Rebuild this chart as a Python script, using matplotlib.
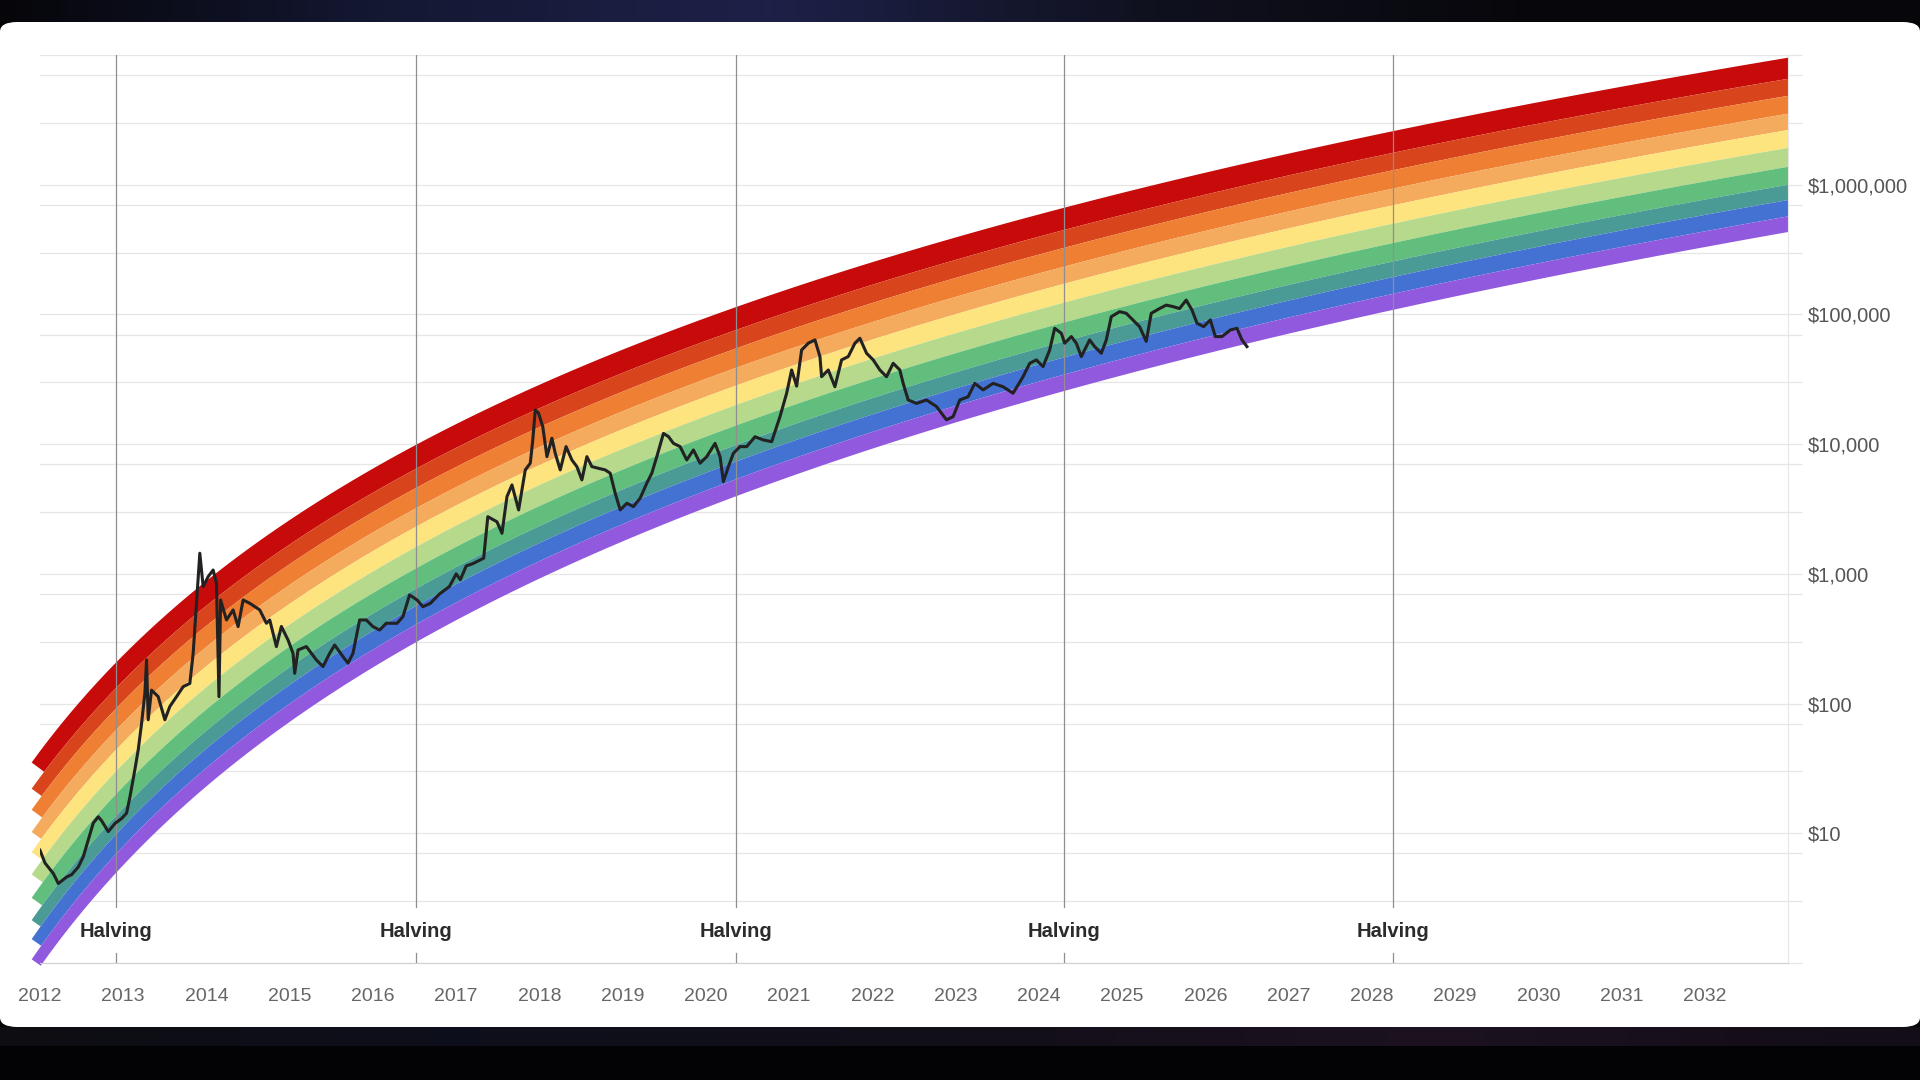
import numpy as np
import matplotlib.pyplot as plt
from matplotlib.patches import Rectangle, FancyBboxPatch
from matplotlib.ticker import FixedLocator, FuncFormatter, NullFormatter
from matplotlib.colors import LinearSegmentedColormap
import matplotlib.transforms as mtransforms

plt.rcParams['font.family'] = ['Liberation Sans', 'DejaVu Sans']

# rainbow model: log10(price) = a * ln(days since genesis) + b, for the top and bottom edge
GENESIS_YEAR = 2009.0
TOP_A, TOP_B = 2.571, -16.362
BOT_A, BOT_B = 2.724, -19.095
BAND_COLORS = ['#c70a0a', '#d8441c', '#ef7f33', '#f4ab5d', '#fde47e',
               '#b6d98b', '#62be7c', '#4a9a95', '#4472d3', '#9159dd']
# relative band thickness, top to bottom (read at the right end)
BAND_WIDTHS = [21.6, 17.4, 18.3, 16.7, 18.3, 19.3, 18.4, 15.6, 16.7, 16.0]
RAINBOW_START, RAINBOW_END = 2011.9, 2033.0

HALVINGS = [2012.91, 2016.52, 2020.36, 2024.30, 2028.25]
YEAR_TICKS = list(range(2012, 2033))

# btc price (decimal year, usd)
PRICE_YEARS = [
    2012.00, 2012.06, 2012.16, 2012.22, 2012.32, 2012.38, 2012.46, 2012.52, 2012.58, 2012.64,
    2012.70, 2012.74, 2012.82, 2012.90, 2012.98, 2013.04, 2013.08, 2013.14, 2013.18, 2013.22,
    2013.26, 2013.28, 2013.30, 2013.34, 2013.42, 2013.50, 2013.56, 2013.64, 2013.72, 2013.80,
    2013.84, 2013.88, 2013.92, 2013.96, 2014.02, 2014.08, 2014.12, 2014.15, 2014.17, 2014.24,
    2014.32, 2014.38, 2014.44, 2014.52, 2014.64, 2014.72, 2014.76, 2014.84, 2014.90, 2014.98,
    2015.04, 2015.06, 2015.10, 2015.20, 2015.32, 2015.40, 2015.48, 2015.54, 2015.64, 2015.70,
    2015.76, 2015.84, 2015.92, 2016.00, 2016.08, 2016.16, 2016.29, 2016.36, 2016.44, 2016.53,
    2016.60, 2016.69, 2016.80, 2016.92, 2017.00, 2017.05, 2017.12, 2017.20, 2017.33, 2017.38,
    2017.49, 2017.55, 2017.61, 2017.67, 2017.75, 2017.83, 2017.89, 2017.92, 2017.95, 2017.99,
    2018.04, 2018.09, 2018.15, 2018.19, 2018.25, 2018.32, 2018.39, 2018.45, 2018.51, 2018.57,
    2018.63, 2018.71, 2018.79, 2018.85, 2018.91, 2018.97, 2019.05, 2019.13, 2019.21, 2019.29,
    2019.35, 2019.41, 2019.49, 2019.55, 2019.61, 2019.69, 2019.77, 2019.85, 2019.93, 2020.01,
    2020.11, 2020.17, 2020.21, 2020.27, 2020.33, 2020.41, 2020.49, 2020.59, 2020.69, 2020.79,
    2020.89, 2020.97, 2021.03, 2021.09, 2021.15, 2021.23, 2021.31, 2021.37, 2021.39, 2021.47,
    2021.55, 2021.63, 2021.71, 2021.79, 2021.85, 2021.93, 2022.01, 2022.09, 2022.17, 2022.25,
    2022.33, 2022.37, 2022.43, 2022.53, 2022.65, 2022.77, 2022.89, 2022.97, 2023.05, 2023.15,
    2023.23, 2023.33, 2023.45, 2023.57, 2023.69, 2023.81, 2023.89, 2023.97, 2024.05, 2024.13,
    2024.19, 2024.27, 2024.31, 2024.39, 2024.45, 2024.51, 2024.61, 2024.67, 2024.75, 2024.81,
    2024.87, 2024.97, 2025.05, 2025.13, 2025.21, 2025.29, 2025.35, 2025.45, 2025.53, 2025.61,
    2025.69, 2025.77, 2025.84, 2025.90, 2025.98, 2026.06, 2026.12, 2026.20, 2026.30, 2026.38,
    2026.44, 2026.50]
PRICE_USD = [
    7.4, 5.9, 4.9, 4.1, 4.6, 4.8, 5.5, 6.6, 8.9, 12,
    13.4, 12.5, 10.3, 11.9, 13, 14.3, 19, 31, 44, 70,
    120, 217, 75, 127, 113, 75, 95, 113, 135, 143,
    244, 597, 1443, 797, 952, 1071, 847, 113, 629, 441,
    527, 392, 629, 593, 527, 416, 441, 275, 393, 309,
    244, 171, 259, 275, 217, 193, 244, 283, 230, 205,
    244, 441, 441, 392, 369, 416, 416, 468, 688, 629,
    558, 593, 700, 800, 1000, 900, 1150, 1200, 1320, 2760,
    2520, 2055, 3940, 4850, 3110, 6330, 7130, 10770, 18350, 17300,
    13650, 8010, 11100, 8500, 6330, 9570, 7550, 6710, 5300, 8010,
    6710, 6510, 6330, 5970, 4190, 3110, 3500, 3300, 3830, 5000,
    5970, 8000, 12100, 11430, 10140, 9570, 7550, 9020, 7130, 8010,
    10140, 8010, 5140, 6710, 8500, 9570, 9570, 11400, 10770, 10450,
    16300, 24700, 37300, 28000, 53200, 60000, 63600, 47300, 33100, 37300,
    27700, 44600, 47300, 60000, 65500, 50200, 44600, 37300, 33100, 42000,
    37300, 29400, 21900, 20600, 21900, 19500, 15400, 16300, 21900, 23200,
    29400, 26200, 29400, 27700, 24700, 33100, 42000, 44600, 39600, 53200,
    78200, 71600, 60000, 67500, 60000, 47300, 63600, 56500, 50200, 63600,
    96100, 105000, 102000, 90700, 80500, 62000, 102000, 111000, 118000, 115000,
    111000, 129000, 108000, 85500, 80500, 90700, 67500, 67500, 75800, 78200,
    63600, 56500]


def band_edge(years, frac):
    # log10 price of the boundary that sits frac of the way from the top edge to the bottom edge
    ln_days = np.log((np.asarray(years) - GENESIS_YEAR) * 365.25)
    top = TOP_A * ln_days + TOP_B
    bot = BOT_A * ln_days + BOT_B
    return top + (bot - top) * frac


fig = plt.figure(figsize=(19.2, 10.8), dpi=100, facecolor='#030305')

# dark strips above and below the white card
top_strip = fig.add_axes([0, 1 - 22 / 1080, 1, 22 / 1080], zorder=-2)
top_cmap = LinearSegmentedColormap.from_list('strip', ['#06060a', '#141833', '#1d2148', '#10111f', '#07070b', '#07070b'])
top_strip.imshow(np.linspace(0, 1, 512)[None, :], aspect='auto', cmap=top_cmap, extent=(0, 1, 0, 1))
top_strip.axis('off')
bot_strip = fig.add_axes([0, (1080 - 1046) / 1080, 1, 19 / 1080], zorder=-2)
bot_cmap = LinearSegmentedColormap.from_list('strip2', ['#0d0d12', '#0e0f1c', '#120f18', '#1c1220', '#120d16'])
bot_strip.imshow(np.linspace(0, 1, 512)[None, :], aspect='auto', cmap=bot_cmap, extent=(0, 1, 0, 1))
bot_strip.axis('off')

panel = FancyBboxPatch((0.0, (1080 - 1027) / 1080), 1.0, (1027 - 22) / 1080,
                       boxstyle='round,pad=0,rounding_size=0.009', transform=fig.transFigure,
                       facecolor='white', edgecolor='none', zorder=-1)
fig.patches.append(panel)

ax = fig.add_axes([40 / 1920, 117 / 1080, 1748 / 1920, 908 / 1080])
ax.patch.set_alpha(0)
ax.set_yscale('log')
ax.set_xlim(2012, 2033)
ax.set_ylim(1, 1e7)

# rainbow bands, each with a slanted (butt cap like) cut at its left end
grid_years = np.linspace(RAINBOW_START, RAINBOW_END, 800)
fracs = np.concatenate([[0], np.cumsum(BAND_WIDTHS)]) / np.sum(BAND_WIDTHS)
clip_rect = Rectangle((RAINBOW_START - 0.01, 1), 22, 2e7, transform=ax.transData)
for k, c in enumerate(BAND_COLORS):
    hi = band_edge(grid_years, fracs[k])
    d_hi = ax.transData.transform(np.column_stack([grid_years[:2], 10 ** hi[:2]]))
    d_lo0 = ax.transData.transform([[grid_years[0], 10 ** band_edge(grid_years[0], fracs[k + 1])]])
    px_per_year = (d_hi[1, 0] - d_hi[0, 0]) / (grid_years[1] - grid_years[0])
    slope = (d_hi[1, 1] - d_hi[0, 1]) / (d_hi[1, 0] - d_hi[0, 0])
    thick = d_hi[0, 1] - d_lo0[0, 1]
    x_cut = RAINBOW_START + slope * thick / (1 + slope ** 2) / px_per_year
    lo_years = np.concatenate([[x_cut], grid_years[grid_years > x_cut]])
    lo = band_edge(lo_years, fracs[k + 1])
    xs = np.concatenate([grid_years, lo_years[::-1]])
    ys = np.concatenate([hi, lo[::-1]])
    for poly in ax.fill(xs, 10 ** ys, color=c, lw=0, zorder=1, clip_on=False):
        poly.set_clip_path(clip_rect)

# halving lines and labels
blend = mtransforms.blended_transform_factory(ax.transData, ax.transAxes)
for h in HALVINGS:
    ax.axvline(h, ymin=0, ymax=0.011, color='#8f8f8f', lw=0.9, zorder=2)
    ax.axvline(h, ymin=0.062, ymax=1, color='#8f8f8f', lw=0.9, zorder=2)
    ax.text(h, 0.0352, 'Halving', transform=blend, ha='center', va='center',
            fontsize=14.5, fontweight='bold', color='#2b2b2b', zorder=4,
            bbox=dict(facecolor='white', edgecolor='none', pad=2))

ax.plot(PRICE_YEARS, PRICE_USD, color='#222222', lw=2.2, zorder=3, solid_joinstyle='round')

# axes styling
ax.yaxis.set_major_locator(FixedLocator(10.0 ** np.arange(0, 8)))
ax.yaxis.set_minor_locator(FixedLocator([m * 10.0 ** e for e in range(0, 7) for m in (3, 7)]))
ax.yaxis.set_major_formatter(FuncFormatter(lambda v, _: '' if v < 5 or v > 5e6 else '${:,.0f}'.format(v)))
ax.yaxis.set_minor_formatter(NullFormatter())
ax.yaxis.tick_right()
ax.yaxis.grid(True, which='both', color='#e6e6e6', lw=0.9)
ax.set_axisbelow(True)
ax.tick_params(axis='y', which='both', length=10, width=0.9, color='#e6e6e6', pad=4,
               labelsize=14.5, labelcolor='#555555')

ax.set_xticks(YEAR_TICKS)
ax.set_xticklabels([str(y) for y in YEAR_TICKS])
ax.tick_params(axis='x', length=0, pad=18, labelsize=14, labelcolor='#666666')

for s in ['top', 'left']:
    ax.spines[s].set_visible(False)
ax.spines['bottom'].set_color('#d0d0d0')
ax.spines['right'].set_color('#e6e6e6')

fig.savefig('out.png', dpi=100)
